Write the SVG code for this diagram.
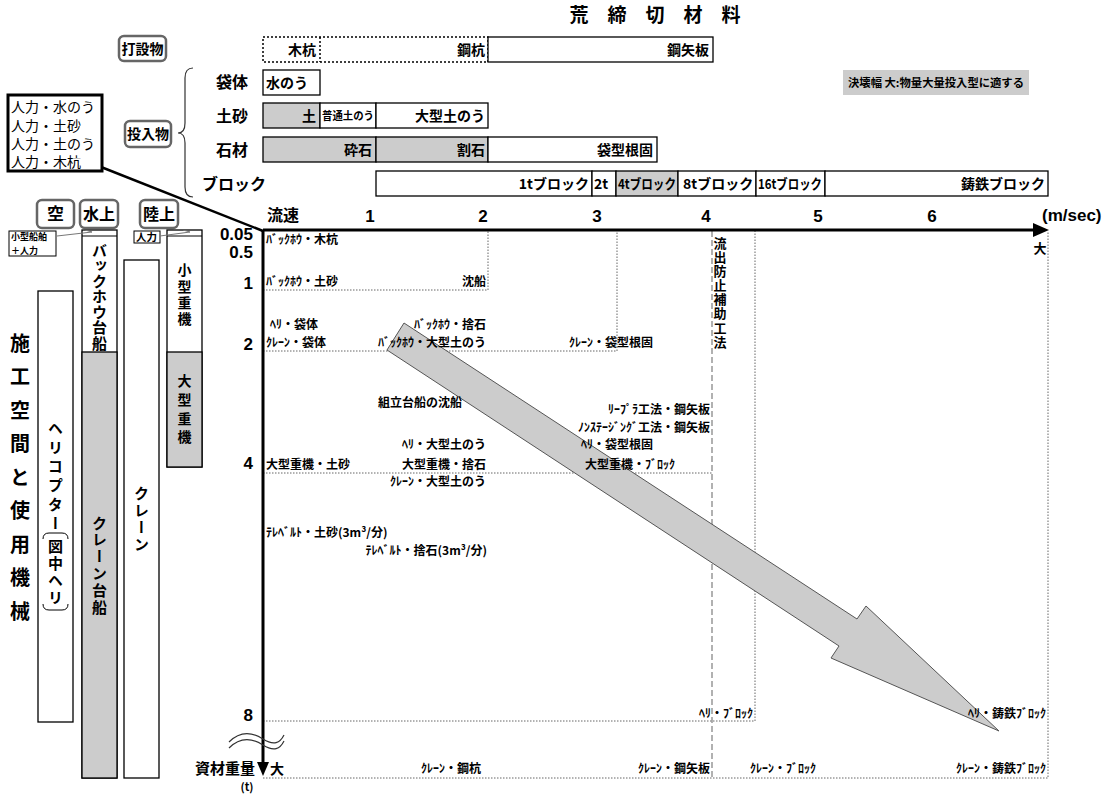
<svg xmlns="http://www.w3.org/2000/svg" width="1117" height="795" viewBox="0 0 1117 795">
<style>
text { font-family: 'Noto Sans CJK JP', 'Noto Sans CJK SC', sans-serif; fill: #000; }
.b { font-weight: bold; }
.lab { font-weight: bold; font-size: 12px; }
.num { font-family: 'Liberation Sans', Arial, sans-serif; font-weight: bold; font-size: 17px; }
.row { font-weight: bold; font-size: 14px; }
.v { font-weight: bold; writing-mode: vertical-rl; }
.box { fill: #fff; stroke: #000; stroke-width: 1.3; }
.gbox { fill: #ccc; stroke: #000; stroke-width: 1.3; }
.rbox { fill: #fff; stroke: #666; stroke-width: 2.5; }
.dot { fill: none; stroke: #666; stroke-width: 1; stroke-dasharray: 1.5 1.5; }
.e { text-anchor: end; }
.m { text-anchor: middle; }
</style>
<defs>
<marker id="sa" markerWidth="8" markerHeight="6" refX="7" refY="3" orient="auto" markerUnits="userSpaceOnUse">
<path d="M0,0 L7,3" stroke="#777" stroke-width="1" fill="none"/>
</marker>
</defs>
<rect width="1117" height="795" fill="#fff"/>

<!-- title -->
<g id="title">
<text y="22" class="b m" font-size="19"><tspan x="579">荒</tspan><tspan x="617">締</tspan><tspan x="655">切</tspan><tspan x="693">材</tspan><tspan x="731">料</tspan></text>
</g>

<!-- 打設物 -->
<g id="dasetsu-label">
<rect x="119" y="36" width="47" height="25" rx="5" class="rbox"/>
<text x="142.5" y="54" class="b m" font-size="14">打設物</text>
</g>
<g id="dasetsu-row">
<rect x="263" y="37" width="225" height="25" fill="#fff" stroke="#000" stroke-width="1.5" stroke-dasharray="2 2"/>
<line x1="320" y1="37" x2="320" y2="62" stroke="#000" stroke-width="1.5" stroke-dasharray="2 2"/>
<text x="316" y="55" class="row e">木杭</text>
<text x="485" y="55" class="row e">鋼杭</text>
<rect x="488" y="37" width="225" height="25" class="box"/>
<text x="709" y="55" class="row e">鋼矢板</text>
</g>

<!-- 投入物 -->
<g id="tonyu-label">
<rect x="125" y="121" width="46" height="26" rx="5" class="rbox"/>
<text x="148" y="139" class="b m" font-size="14">投入物</text>
<path d="M193,68 Q185,68 185,78 L185,123 Q185,133 178,133 Q185,133 185,143 L185,187 Q185,197 193,197" fill="none" stroke="#333" stroke-width="1.2"/>
</g>
<g id="row-tai">
<text x="232" y="88" class="b m" font-size="16">袋体</text>
<rect x="263" y="70" width="57" height="25" class="box"/>
<text x="266" y="88" class="row">水のう</text>
</g>
<g id="row-dosha">
<text x="232" y="122" class="b m" font-size="16">土砂</text>
<rect x="263" y="103" width="57" height="25" class="gbox"/>
<rect x="320" y="103" width="56" height="25" class="box"/>
<rect x="376" y="103" width="112" height="25" class="box"/>
<text x="316" y="121" class="row e">土</text>
<text x="322" y="120" class="b" font-size="11" textLength="52" lengthAdjust="spacingAndGlyphs">普通土のう</text>
<text x="485" y="121" class="row e">大型土のう</text>
</g>
<g id="row-sekizai">
<text x="232" y="156" class="b m" font-size="16">石材</text>
<rect x="263" y="137" width="113" height="25" class="gbox"/>
<rect x="376" y="137" width="112" height="25" class="gbox"/>
<rect x="488" y="137" width="169" height="25" class="box"/>
<text x="372" y="155" class="row e">砕石</text>
<text x="485" y="155" class="row e">割石</text>
<text x="653" y="155" class="row e">袋型根固</text>
</g>
<g id="row-block">
<text x="234" y="190" class="b m" font-size="16">ブロック</text>
<rect x="376" y="171" width="216" height="25" class="box"/>
<rect x="592" y="171" width="24" height="25" class="box"/>
<rect x="616" y="171" width="62" height="25" class="gbox"/>
<rect x="678" y="171" width="78" height="25" class="box"/>
<rect x="756" y="171" width="69" height="25" class="box"/>
<rect x="825" y="171" width="223" height="25" class="box"/>
<text x="589" y="189" class="row e">1tブロック</text>
<text x="594" y="189" class="row">2t</text>
<text x="618" y="189" class="row" textLength="58" lengthAdjust="spacingAndGlyphs">4tブロック</text>
<text x="683" y="189" class="row">8tブロック</text>
<text x="758" y="189" class="row" textLength="64" lengthAdjust="spacingAndGlyphs">16tブロック</text>
<text x="1045" y="189" class="row e">鋳鉄ブロック</text>
</g>
<g id="note">
<rect x="843" y="70" width="186" height="25" fill="#ccc"/>
<text x="848" y="87" class="b" font-size="11" textLength="176" lengthAdjust="spacingAndGlyphs">決壊幅  大:物量大量投入型に適する</text>
</g>

<!-- callout -->
<g id="callout">
<line x1="96" y1="165" x2="263" y2="231" stroke="#000" stroke-width="2.5"/>
<rect x="8" y="95" width="94" height="76" fill="#fff" stroke="#000" stroke-width="3"/>
<text x="11" y="112" font-size="14">人力・水のう</text>
<text x="11" y="131" font-size="14">人力・土砂</text>
<text x="11" y="149" font-size="14">人力・土のう</text>
<text x="11" y="167" font-size="14">人力・木杭</text>
</g>

<!-- left vertical title -->
<g id="side-title">
<text x="20" y="333" class="v" font-size="20" letter-spacing="13.5" fill="#333">施工空間と使用機械</text>
</g>

<!-- space headers -->
<g id="hdr-sora">
<rect x="37" y="200" width="37" height="28" rx="5" class="rbox"/>
<text x="55.5" y="220" class="b m" font-size="17">空</text>
</g>
<g id="hdr-suijo">
<rect x="80" y="200" width="38" height="28" rx="5" class="rbox"/>
<text x="99" y="220" class="b m" font-size="16">水上</text>
</g>
<g id="hdr-rikujo">
<rect x="140" y="200" width="38" height="28" rx="5" class="rbox"/>
<text x="159" y="220" class="b m" font-size="16">陸上</text>
</g>
<g id="small-boat">
<rect x="9" y="231" width="47" height="25" fill="#fff" stroke="#000" stroke-width="1"/>
<text x="11" y="240" class="b" font-size="9">小型船舶</text>
<text x="11" y="253.5" class="b" font-size="9">＋人力</text>
</g>
<g id="jinriki">
<rect x="134" y="231" width="26" height="12" fill="#fff" stroke="#000" stroke-width="1"/>
<text x="136" y="241" class="b" font-size="10.5">人力</text>
</g>

<!-- columns -->
<g id="col-heli">
<rect x="38" y="291" width="35" height="431" class="box"/>
<text x="55.5" y="420.5" class="v" font-size="15" letter-spacing="4">ヘリコプター</text>
<path d="M43,539 Q43,533 49,533 L62,533 Q68,533 68,539" fill="none" stroke="#000" stroke-width="1"/>
<text x="55.5" y="538.5" class="v" font-size="15" letter-spacing="2">図中ヘリ</text>
<path d="M43,604 Q43,610 49,610 L62,610 Q68,610 68,604" fill="none" stroke="#000" stroke-width="1"/>
</g>
<g id="col-backhoe">
<rect x="82" y="230" width="35" height="548" class="box"/>
<line x1="82" y1="236" x2="117" y2="236" stroke="#000" stroke-width="1"/>
<rect x="82" y="352" width="35" height="426" class="gbox"/>
<text x="99.5" y="242.5" class="v" font-size="15" letter-spacing="0.5">バックホウ台船</text>
<text x="99.5" y="515.5" class="v" font-size="15" letter-spacing="1.8">クレーン台船</text>
</g>
<g id="col-crane">
<rect x="124" y="260" width="35" height="518" class="box"/>
<text x="141.5" y="485.5" class="v" font-size="15" letter-spacing="2">クレーン</text>
</g>
<g id="col-heavy">
<rect x="167" y="230" width="35" height="237" class="box"/>
<line x1="167" y1="236" x2="202" y2="236" stroke="#000" stroke-width="1"/>
<rect x="167" y="352" width="35" height="115" class="gbox"/>
<text x="184.5" y="263" class="v" font-size="14" letter-spacing="2.3">小型重機</text>
<text x="184.5" y="374" class="v" font-size="14" letter-spacing="4.7">大型重機</text>
</g>

<!-- grid lines -->
<g id="grid">
<path d="M263,290 H488 V231" class="dot"/>
<path d="M263,351 H617 V231" class="dot"/>
<path d="M263,473 H712" class="dot"/>
<path d="M263,721 H755 V231" class="dot"/>
<path d="M263,778 H1048 V231" class="dot"/>
<line x1="712" y1="231" x2="712" y2="778" stroke="#888" stroke-width="1.3" stroke-dasharray="6 3"/>
</g>

<!-- big trend arrow -->
<g id="trend-arrow">
<polygon points="404,323 857,619 866,606 999,731 831,658 839,646 387,350" fill="#ccc" stroke="#555" stroke-width="1"/>
</g>

<!-- connectors -->
<g id="connectors">
<line x1="57" y1="236" x2="92" y2="232" stroke="#777" stroke-width="1" marker-end="url(#sa)"/>
<line x1="160" y1="236" x2="190" y2="232" stroke="#777" stroke-width="1" marker-end="url(#sa)"/>
</g>

<!-- axes -->
<g id="axes">
<line x1="263" y1="230" x2="1035" y2="230" stroke="#000" stroke-width="3"/>
<polygon points="1033,223 1049,230 1033,237" fill="#000"/>
<line x1="263" y1="230" x2="263" y2="763" stroke="#000" stroke-width="3"/>
<polygon points="257,762 269,762 263,776" fill="#000"/>
<path d="M229,742 C240,731 252,732 263,739 C274,746 280,743 284,735" fill="none" stroke="#333" stroke-width="1.2"/>
<path d="M229,748 C240,737 252,738 263,745 C274,752 280,749 284,741" fill="none" stroke="#333" stroke-width="1.2"/>
<text x="267" y="221" class="b" font-size="16">流速</text>
<text x="370" y="222" class="num m">1</text>
<text x="483" y="222" class="num m">2</text>
<text x="597" y="222" class="num m">3</text>
<text x="706" y="222" class="num m">4</text>
<text x="818" y="222" class="num m">5</text>
<text x="932" y="222" class="num m">6</text>
<text x="1042" y="221" class="num" font-size="16">(m/sec)</text>
<text x="1040" y="253" class="b m" font-size="13">大</text>
<text x="253" y="240" class="num e">0.05</text>
<text x="253" y="258" class="num e">0.5</text>
<text x="253" y="289" class="num e">1</text>
<text x="253" y="350" class="num e">2</text>
<text x="253" y="469" class="num e">4</text>
<text x="253" y="721" class="num e">8</text>
<text x="255" y="774" class="b e" font-size="15">資材重量</text>
<text x="247" y="791" class="b m" font-size="11">(t)</text>
<text x="270" y="774" class="b" font-size="14">大</text>
</g>

<!-- chart labels -->
<g id="labels">
<text x="266" y="244" class="lab">ﾊﾞｯｸﾎｳ・木杭</text>
<text x="266" y="286" class="lab">ﾊﾞｯｸﾎｳ・土砂</text>
<text x="486" y="286" class="lab e">沈船</text>
<text x="270" y="329" class="lab">ﾍﾘ・袋体</text>
<text x="266" y="347" class="lab">ｸﾚｰﾝ・袋体</text>
<text x="486" y="329" class="lab e">ﾊﾞｯｸﾎｳ・捨石</text>
<text x="486" y="347" class="lab e">ﾊﾞｯｸﾎｳ・大型土のう</text>
<text x="653" y="347" class="lab e">ｸﾚｰﾝ・袋型根固</text>
<text x="378" y="407" class="lab">組立台船の沈船</text>
<text x="710" y="414" class="lab e">ﾘｰﾌﾟﾗ工法・鋼矢板</text>
<text x="710" y="432" class="lab e">ﾉﾝｽﾃｰｼﾞﾝｸﾞ工法・鋼矢板</text>
<text x="486" y="449" class="lab e">ﾍﾘ・大型土のう</text>
<text x="653" y="449" class="lab e">ﾍﾘ・袋型根固</text>
<text x="266" y="469" class="lab">大型重機・土砂</text>
<text x="486" y="469" class="lab e">大型重機・捨石</text>
<text x="585" y="469" class="lab">大型重機・ﾌﾞﾛｯｸ</text>
<text x="486" y="486" class="lab e">ｸﾚｰﾝ・大型土のう</text>
<text x="266" y="537" class="lab">ﾃﾚﾍﾞﾙﾄ・土砂(3m³/分)</text>
<text x="487" y="555" class="lab e">ﾃﾚﾍﾞﾙﾄ・捨石(3m³/分)</text>
<text x="753" y="718" class="lab e">ﾍﾘ・ﾌﾞﾛｯｸ</text>
<text x="1046" y="718" class="lab e">ﾍﾘ・鋳鉄ﾌﾞﾛｯｸ</text>
<text x="421" y="773" class="lab">ｸﾚｰﾝ・鋼杭</text>
<text x="710" y="773" class="lab e">ｸﾚｰﾝ・鋼矢板</text>
<text x="750" y="773" class="lab">ｸﾚｰﾝ・ﾌﾞﾛｯｸ</text>
<text x="1046" y="773" class="lab e">ｸﾚｰﾝ・鋳鉄ﾌﾞﾛｯｸ</text>
</g>
<g id="outflow">
<text x="720" y="236.5" class="v" font-size="13" letter-spacing="1.1">流出防止補助工法</text>
</g>
</svg>
